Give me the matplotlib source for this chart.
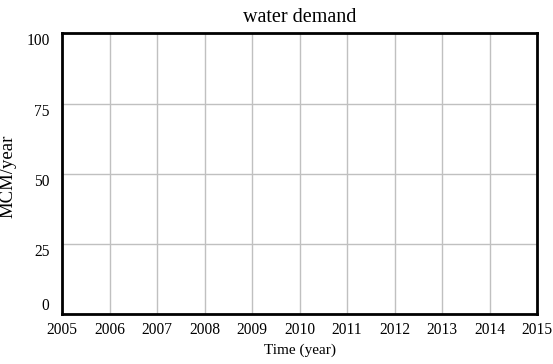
import matplotlib.pyplot as plt

# chart data (empty chart, only axes)
years = list(range(2005, 2016))
y_ticks = [0, 25, 50, 75, 100]
title = 'water demand'
x_label = 'Time (year)'
y_label = 'MCM/year'

plt.rcParams['font.family'] = ['Liberation Serif', 'DejaVu Serif']

fig = plt.figure(figsize=(5.53, 3.64), dpi=100)
ax = fig.add_axes([62 / 553, 50 / 364, 475 / 553, 280.5 / 364])

ax.set_xlim(years[0], years[-1])
ax.set_ylim(y_ticks[0], y_ticks[-1])
ax.set_xticks(years)
ax.set_xticklabels([str(y) for y in years], fontsize=11.2)
ax.set_yticks(y_ticks)
ax.set_yticklabels([str(v) for v in y_ticks], fontsize=11.2)
ax.tick_params(axis='x', length=0, pad=6)
ax.tick_params(axis='y', length=0, pad=9)

labels = ax.get_yticklabels()
labels[0].set_va('bottom')
labels[-1].set_va('top')
for lab in labels[1:-1]:
    lab.set_va('top')

ax.grid(True, color='#c0c0c0', linewidth=1)
for s in ax.spines.values():
    s.set_linewidth(2)
    s.set_color('black')

ax.set_title(title, fontsize=14.5, pad=8)
ax.set_xlabel(x_label, fontsize=11, labelpad=4)
# y label placed by hand so it sits against the left edge
fig.text(7.5 / 553, 1 - 176 / 364, y_label, rotation=90, fontsize=13.5,
         ha='center', va='center')

fig.savefig('out.png', dpi=100)
